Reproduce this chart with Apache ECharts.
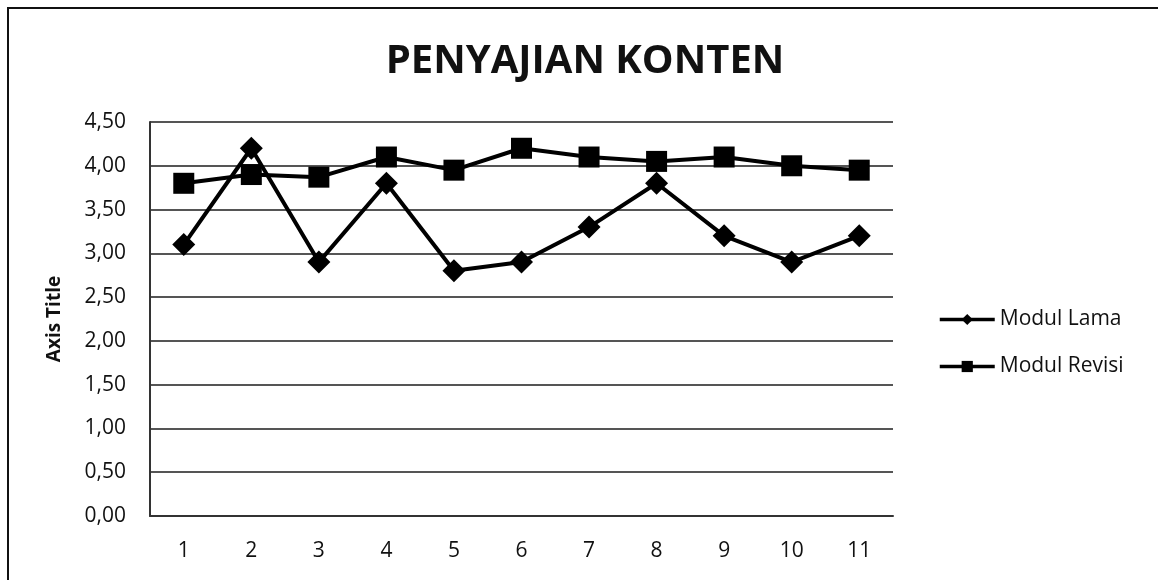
<!DOCTYPE html>
<html><head><meta charset="utf-8">
<script src="https://cdn.jsdelivr.net/npm/echarts@6/dist/echarts.min.js"></script>
<style>html,body{margin:0;padding:0;background:#fff}#c{width:1158px;height:580px;position:relative}
#frame{position:absolute;left:7px;top:7px;width:1160px;height:600px;border-left:2px solid #111;border-top:2px solid #111;pointer-events:none}</style>
</head><body><div id="c"></div><div id="frame"></div>
<script>
const categories = ['1','2','3','4','5','6','7','8','9','10','11'];
const modulLama = [3.1, 4.2, 2.9, 3.8, 2.8, 2.9, 3.3, 3.8, 3.2, 2.9, 3.2];
const modulRevisi = [3.8, 3.9, 3.87, 4.1, 3.95, 4.2, 4.1, 4.05, 4.1, 4.0, 3.95];
const yTicks = { min: 0, max: 4.5, interval: 0.5 };
const font = 'Open Sans';
const chart = echarts.init(document.getElementById('c'), null, {renderer:'canvas'});
chart.setOption({
  backgroundColor: '#fff',
  animation: false,
  title: { text: 'PENYAJIAN KONTEN', left: 580, textAlign: 'center', top: 37,
    textStyle: { fontFamily: font, fontWeight: 'bold', fontSize: 40, color: '#111' } },
  grid: { left: 150, top: 122, width: 743, height: 394 },
  legend: {
    orient: 'vertical', left: 933, top: 304, itemGap: 26, itemWidth: 55, itemHeight: 14,
    lineStyle: { width: 3.5 },
    textStyle: { fontFamily: font, fontSize: 21, lineHeight: 21, color: '#111' },
    data: ['Modul Lama', 'Modul Revisi']
  },
  xAxis: {
    type: 'category', data: categories, boundaryGap: true,
    axisLine: { lineStyle: { color: '#333', width: 2 } },
    axisTick: { show: false },
    axisLabel: { fontFamily: font, fontSize: 21, color: '#111', margin: 25 }
  },
  yAxis: {
    type: 'value', min: yTicks.min, max: yTicks.max, interval: yTicks.interval,
    name: 'Axis Title', nameLocation: 'middle', nameGap: 86, nameRotate: 90, nameMoveOverlap: false,
    nameTextStyle: { fontFamily: font, fontWeight: 'bold', fontSize: 19, color: '#111' },
    axisLine: { show: true, lineStyle: { color: '#333', width: 2 } },
    axisTick: { show: false },
    axisLabel: { fontFamily: font, fontSize: 21, color: '#111', margin: 24,
      formatter: v => v.toFixed(2).replace('.', ',') },
    splitLine: { lineStyle: { color: '#555', width: 2 } }
  },
  series: [
    { name: 'Modul Lama', type: 'line', data: modulLama, symbol: 'diamond', symbolSize: 23,
      lineStyle: { color: '#000', width: 4 }, itemStyle: { color: '#000' } },
    { name: 'Modul Revisi', type: 'line', data: modulRevisi, symbol: 'rect', symbolSize: 21,
      lineStyle: { color: '#000', width: 4 }, itemStyle: { color: '#000' } }
  ]
});
</script></body></html>
